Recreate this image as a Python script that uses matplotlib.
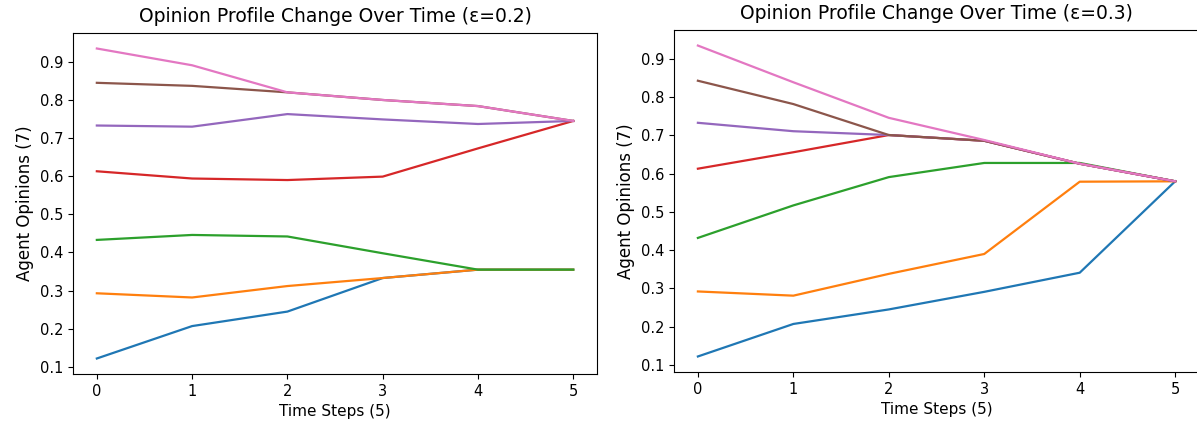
import matplotlib
matplotlib.use("Agg")
import matplotlib.pyplot as plt

steps = [0, 1, 2, 3, 4, 5]

# epsilon = 0.2
left_agents = [
    [0.122, 0.207, 0.245, 0.333, 0.355, 0.355],  # blue
    [0.293, 0.282, 0.312, 0.333, 0.355, 0.355],  # orange
    [0.433, 0.446, 0.442, 0.398, 0.355, 0.355],  # green
    [0.613, 0.594, 0.590, 0.599, 0.673, 0.745],  # red
    [0.733, 0.730, 0.763, 0.749, 0.737, 0.745],  # purple
    [0.845, 0.837, 0.820, 0.800, 0.784, 0.745],  # brown
    [0.935, 0.891, 0.820, 0.800, 0.784, 0.745],  # pink
]

# epsilon = 0.3
right_agents = [
    [0.122, 0.207, 0.245, 0.291, 0.341, 0.580],  # blue
    [0.292, 0.281, 0.338, 0.390, 0.579, 0.580],  # orange
    [0.432, 0.517, 0.591, 0.628, 0.628, 0.580],  # green
    [0.613, 0.656, 0.701, 0.686, 0.626, 0.580],  # red
    [0.733, 0.711, 0.701, 0.686, 0.626, 0.580],  # purple
    [0.843, 0.782, 0.701, 0.686, 0.626, 0.580],  # brown
    [0.935, 0.839, 0.746, 0.688, 0.626, 0.580],  # pink
]

titles = ["Opinion Profile Change Over Time (\u03b5=0.2)",
          "Opinion Profile Change Over Time (\u03b5=0.3)"]
xlabel = "Time Steps (5)"
ylabel = "Agent Opinions (7)"
yticks = [0.1, 0.2, 0.3, 0.4, 0.5, 0.6, 0.7, 0.8, 0.9]

fig = plt.figure(figsize=(11.97, 4.28), dpi=100)
ax1 = fig.add_axes([0.0610, 0.1262, 0.4378, 0.7967])
ax2 = fig.add_axes([0.5631, 0.1308, 0.4386, 0.7991])

for ax, agents, title in [(ax1, left_agents, titles[0]), (ax2, right_agents, titles[1])]:
    for a in agents:
        ax.plot(steps, a, linewidth=1.6)
    ax.set_title(title, fontsize=13.5, pad=8)
    ax.set_xlabel(xlabel, fontsize=11)
    ax.set_ylabel(ylabel, fontsize=12, labelpad=4)
    ax.set_xticks(steps)
    ax.set_yticks(yticks)
    ax.tick_params(labelsize=10.5)

fig.savefig("out.png", dpi=100)
